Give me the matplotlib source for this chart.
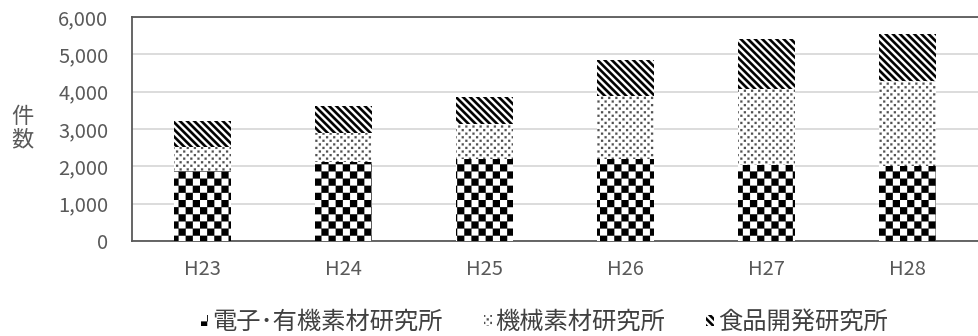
import numpy as np
import matplotlib
matplotlib.use("Agg")
import matplotlib.pyplot as plt
import matplotlib.hatch as mhatch
from matplotlib.path import Path

categories = ['H23', 'H24', 'H25', 'H26', 'H27', 'H28']
electronics = [1880, 2110, 2200, 2190, 2030, 2010]
mechanical = [630, 770, 930, 1690, 2030, 2280]
food = [710, 740, 720, 960, 1350, 1250]
series_names = ['電子･有機素材研究所', '機械素材研究所', '食品開発研究所']
yticks = [0, 1000, 2000, 3000, 4000, 5000, 6000]


# ---- custom hatch patterns (checker, dots, thick diagonal stripes) ----
class _PolyHatch(mhatch.HatchPatternBase):
    char = None

    def __init__(self, hatch, density):
        self.polys = self.make_polys() if (hatch and self.char in hatch) else []
        self.num_vertices = 5 * len(self.polys)

    def make_polys(self):
        return []

    def set_vertices_and_codes(self, vertices, codes):
        for i, p in enumerate(self.polys):
            vertices[5 * i:5 * i + 4] = p
            vertices[5 * i + 4] = p[0]
            codes[5 * i] = Path.MOVETO
            codes[5 * i + 1:5 * i + 4] = Path.LINETO
            codes[5 * i + 4] = Path.CLOSEPOLY


class CheckerHatch(_PolyHatch):
    char = 'O'

    def make_polys(self):
        n = 14
        out = []
        for i in range(n):
            for j in range(n):
                if (i + j) % 2 == 0:
                    x0, x1, y0, y1 = i / n, (i + 1) / n, j / n, (j + 1) / n
                    out.append([(x0, y0), (x1, y0), (x1, y1), (x0, y1)])
        return out


class DotHatch(_PolyHatch):
    char = '.'

    def make_polys(self):
        nx, ny = 14, 28
        p = 1.0 / nx
        s = 0.021
        out = []
        for r in range(ny):
            off = (r % 2) * p / 2
            y = r / ny + 0.01
            for c in range(nx):
                x = c * p + off + 0.01
                out.append([(x, y), (x + s, y), (x + s, y + s), (x, y + s)])
        return out


class StripeHatch(_PolyHatch):
    char = '\\'

    def make_polys(self):
        N = 14
        w = 0.5 / N
        out = []
        for k in range(-2, 2 * N + 2):
            c = k / N
            out.append([(c + 0.5, -0.5), (c + w + 0.5, -0.5),
                        (c + w - 1.5, 1.5), (c - 1.5, 1.5)])
        return out


mhatch._hatch_types[:] = [CheckerHatch, DotHatch, StripeHatch]

plt.rcParams['hatch.linewidth'] = 0.1
plt.rcParams['font.family'] = ['Noto Sans CJK JP', 'DejaVu Sans']

W, H = 979, 336
fig = plt.figure(figsize=(W / 100, H / 100), dpi=100)
ax = fig.add_axes([132 / W, 1 - 241 / H, (978 - 132) / W, (241 - 17) / H])

x = np.arange(len(categories))
bw = 0.4
el = np.array(electronics)
me = np.array(mechanical)
fo = np.array(food)

b1 = ax.bar(x, el, bw, facecolor='white', edgecolor='black', linewidth=0, hatch='O',
            label=series_names[0], zorder=3)
b2 = ax.bar(x, me, bw, bottom=el, facecolor='white', edgecolor='#505050', linewidth=0,
            hatch='.', label=series_names[1], zorder=3)
b3 = ax.bar(x, fo, bw, bottom=el + me, facecolor='white', edgecolor='black', linewidth=0,
            hatch='\\', label=series_names[2], zorder=3)

ax.set_xlim(-0.5, len(categories) - 0.5)
ax.set_ylim(0, 6000)
ax.set_yticks(yticks)
ax.set_yticklabels([f'{v:,}' for v in yticks])
ax.set_xticks(x)
ax.set_xticklabels(categories)
ax.tick_params(axis='both', length=0, colors='#595959', labelsize=14.5)
ax.tick_params(axis='y', pad=17)
ax.tick_params(axis='x', pad=13)
ax.yaxis.grid(True, color='#d9d9d9', linewidth=1.3, zorder=0)
ax.set_axisbelow(True)
for side in ['top', 'left', 'bottom']:
    ax.spines[side].set_color('#595959')
    ax.spines[side].set_linewidth(1.3)
ax.spines['right'].set_visible(False)

fig.text(22 / W, 1 - 128 / H, '件\n数', ha='center', va='center', fontsize=16,
         color='#595959', linespacing=1.0)

leg = fig.legend(handles=[b1, b2, b3], loc='center', bbox_to_anchor=(544 / W, 1 - 322 / H),
                 ncol=3, frameon=False, fontsize=17.5, handlelength=0.32, handleheight=0.32,
                 handletextpad=0.15, columnspacing=1.7, borderpad=0, borderaxespad=0)
for t in leg.get_texts():
    t.set_color('#404040')

fig.savefig('out.png', dpi=100)
